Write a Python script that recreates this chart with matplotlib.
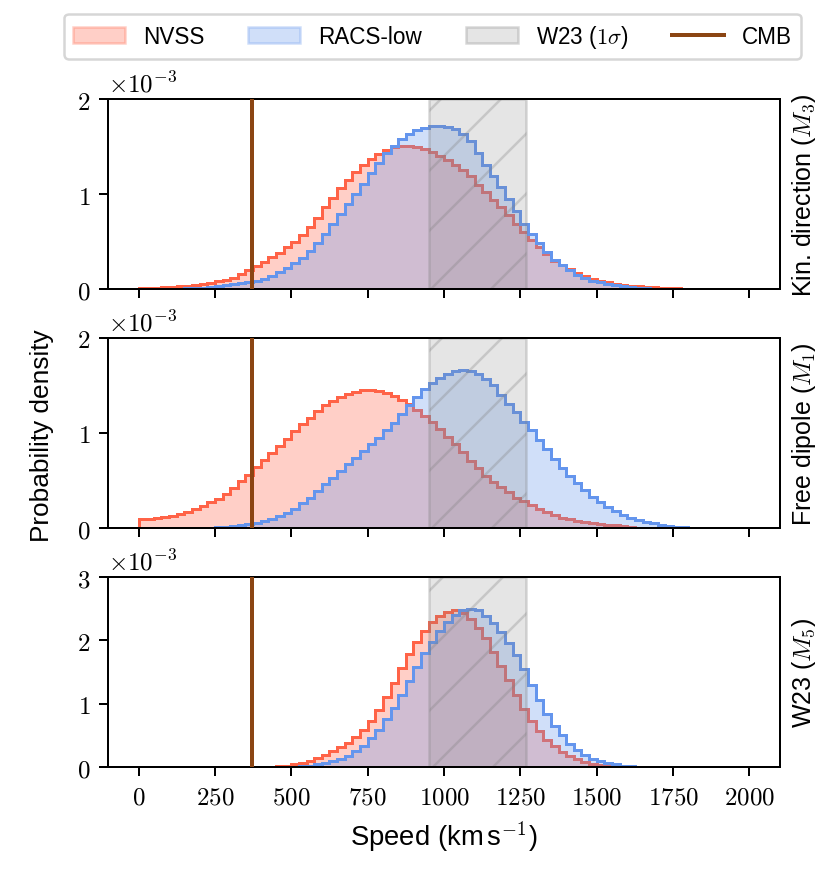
import numpy as np
import matplotlib
matplotlib.use('Agg')
from matplotlib import pyplot as plt
from matplotlib.patches import Patch
from matplotlib.lines import Line2D
from matplotlib.ticker import FuncFormatter, MultipleLocator

plt.rcParams['font.family'] = ['Liberation Sans', 'DejaVu Sans']
plt.rcParams['mathtext.fontset'] = 'cm'
plt.rcParams['font.size'] = 10

# histogram bin width (km/s); densities below are in units of 1e-3
BIN_WIDTH = 25
CMB_SPEED = 370
W23_LO, W23_HI = 952, 1268

# Kin. direction (M3)
kin_nvss_start = 0
kin_nvss = [0.01, 0.01, 0.01, 0.02, 0.02, 0.03, 0.03, 0.04, 0.05, 0.06,
            0.08, 0.10, 0.12, 0.16, 0.20, 0.24, 0.29, 0.34, 0.38, 0.44,
            0.50, 0.57, 0.65, 0.75, 0.86, 0.96, 1.06, 1.15, 1.23, 1.31,
            1.37, 1.42, 1.46, 1.49, 1.51, 1.51, 1.50, 1.47, 1.44, 1.40,
            1.36, 1.31, 1.25, 1.19, 1.10, 1.02, 0.94, 0.86, 0.78, 0.69,
            0.60, 0.52, 0.44, 0.37, 0.30, 0.25, 0.21, 0.17, 0.14, 0.11,
            0.09, 0.07, 0.05, 0.04, 0.03, 0.03, 0.02, 0.02, 0.01, 0.01,
            0.01, 0.005]
kin_racs_start = 75
kin_racs = [0.002, 0.003, 0.005, 0.007, 0.01, 0.015, 0.02, 0.03, 0.04,
            0.05, 0.06, 0.07, 0.09, 0.11, 0.14, 0.18, 0.22,
            0.27, 0.33, 0.40, 0.49, 0.58, 0.68, 0.79, 0.90, 1.00, 1.11,
            1.22, 1.33, 1.43, 1.51, 1.58, 1.63, 1.67, 1.70, 1.72, 1.72,
            1.71, 1.68, 1.63, 1.56, 1.43, 1.31, 1.19, 1.07, 0.95, 0.82,
            0.69, 0.58, 0.48, 0.39, 0.31, 0.25, 0.20, 0.15, 0.12, 0.09,
            0.07, 0.05, 0.04, 0.03, 0.02, 0.015, 0.01, 0.005]

# Free dipole (M1)
free_nvss_start = 0
free_nvss = [0.10, 0.10, 0.11, 0.12, 0.13, 0.15, 0.17, 0.20, 0.23, 0.27,
             0.31, 0.36, 0.42, 0.49, 0.56, 0.64, 0.72, 0.79, 0.86, 0.94,
             1.02, 1.09, 1.16, 1.23, 1.29, 1.34, 1.38, 1.41, 1.43, 1.45,
             1.45, 1.44, 1.42, 1.39, 1.35, 1.30, 1.24, 1.18, 1.12, 1.04,
             0.96, 0.88, 0.80, 0.71, 0.63, 0.55, 0.48, 0.43, 0.38, 0.32,
             0.28, 0.24, 0.20, 0.17, 0.14, 0.11, 0.09, 0.07, 0.06, 0.05,
             0.04, 0.035, 0.03, 0.02, 0.01, 0.005]
free_racs_start = 200
free_racs = [0.002, 0.005, 0.01, 0.015, 0.02, 0.03, 0.04, 0.05,
             0.07, 0.10, 0.13, 0.16, 0.20, 0.26, 0.32, 0.39, 0.46, 0.53,
             0.60, 0.67, 0.74, 0.81, 0.88, 0.95, 1.03, 1.11, 1.20, 1.29,
             1.38, 1.46, 1.53, 1.58, 1.62, 1.65, 1.66, 1.65, 1.62, 1.57,
             1.50, 1.40, 1.31, 1.22, 1.12, 1.03, 0.93, 0.83, 0.73, 0.63,
             0.55, 0.47, 0.40, 0.33, 0.27, 0.22, 0.18, 0.14, 0.11, 0.08,
             0.06, 0.05, 0.03, 0.02, 0.015, 0.01, 0.005]

# W23 (M5)
w23_nvss_start = 425
w23_nvss = [0.005, 0.01, 0.02, 0.04, 0.07, 0.10, 0.14, 0.19, 0.25, 0.31,
            0.38, 0.47, 0.58, 0.73, 0.90, 1.10, 1.33, 1.56, 1.78, 1.98,
            2.15, 2.29, 2.39, 2.45, 2.47, 2.43, 2.33, 2.20, 2.03, 1.82,
            1.60, 1.37, 1.14, 0.92, 0.73, 0.57, 0.43, 0.33, 0.24, 0.17,
            0.12, 0.08, 0.05, 0.03, 0.01]
w23_racs_start = 500
w23_racs = [0.005, 0.01, 0.02, 0.04, 0.06, 0.09, 0.12, 0.18, 0.25, 0.33,
            0.45, 0.58, 0.75, 0.93, 1.13, 1.35, 1.58, 1.80, 1.98, 2.15,
            2.29, 2.40, 2.48, 2.50, 2.47, 2.38, 2.28, 2.13, 1.96, 1.77,
            1.55, 1.30, 1.05, 0.84, 0.65, 0.50, 0.37, 0.27, 0.19, 0.13,
            0.09, 0.06, 0.04, 0.02, 0.01]

panel_labels = [r'Kin. direction ($M_3$)', r'Free dipole ($M_1$)', r'W23 ($M_5$)']
panel_ymax = [2, 2, 3]
xticks = [0, 250, 500, 750, 1000, 1250, 1500, 1750, 2000]

RED = 'tomato'
BLUE = 'cornflowerblue'
CMB_COLOR = 'saddlebrown'


def draw_hist(ax, start, vals, color):
    vals = np.array(vals) * 1e-3
    edges = start + BIN_WIDTH * np.arange(len(vals) + 1)
    ax.stairs(vals, edges, fill=True, color=color, alpha=0.3, lw=0)
    ax.stairs(vals, edges, color=color, lw=1.2)


def main():
    fig, axes = plt.subplots(3, 1, sharex=True, figsize=(831 / 180, 872 / 180), dpi=180)
    fig.subplots_adjust(left=0.130, right=0.9386, top=0.8853, bottom=0.1193, hspace=0.257)

    series = [(kin_nvss_start, kin_nvss, kin_racs_start, kin_racs),
              (free_nvss_start, free_nvss, free_racs_start, free_racs),
              (w23_nvss_start, w23_nvss, w23_racs_start, w23_racs)]

    for ax, (ns, nv, rs, rv), label, ymax in zip(axes, series, panel_labels, panel_ymax):
        draw_hist(ax, ns, nv, RED)
        draw_hist(ax, rs, rv, BLUE)
        ax.axvspan(W23_LO, W23_HI, facecolor=(0.5, 0.5, 0.5, 0.2),
                   edgecolor=(0.5, 0.5, 0.5, 0.3), hatch='/', lw=1.0)
        ax.axvline(CMB_SPEED, color=CMB_COLOR, lw=1.6, zorder=5)

        ax.set_ylim(0, ymax * 1e-3)
        ax.yaxis.set_major_locator(MultipleLocator(1e-3))
        ax.yaxis.set_major_formatter(FuncFormatter(lambda v, p: f'${v * 1e3:.0f}$'))
        ax.text(0.0, 1.015, r'$\times10^{-3}$', transform=ax.transAxes, ha='left', va='bottom')
        ax.yaxis.set_label_position('right')
        ax.set_ylabel(label)

    axes[-1].set_xlim(-100, 2100)
    axes[-1].set_xticks(xticks)
    axes[-1].xaxis.set_major_formatter(FuncFormatter(lambda v, p: f'${v:.0f}$'))
    axes[-1].set_xlabel(r'Speed (km$\,$s$^{-1}$)', fontsize=11)
    fig.supylabel('Probability density', x=0.036, fontsize=10.5)

    handles = [Patch(facecolor=RED, edgecolor=RED, alpha=0.3),
               Patch(facecolor=BLUE, edgecolor=BLUE, alpha=0.3),
               Patch(facecolor=(0.5, 0.5, 0.5, 0.2), edgecolor=(0.5, 0.5, 0.5, 0.3)),
               Line2D([], [], color=CMB_COLOR, lw=1.6)]
    labels = ['NVSS', 'RACS-low', r'W23 ($1\sigma$)', 'CMB']
    fig.legend(handles, labels, loc='center', ncol=4, mode='expand', fontsize=9,
               handlelength=2.3,
               bbox_to_anchor=(53 / 831, 1 - 60 / 872, (812 - 53) / 831, 46 / 872))

    fig.savefig('out.png', dpi=180)


if __name__ == '__main__':
    main()
